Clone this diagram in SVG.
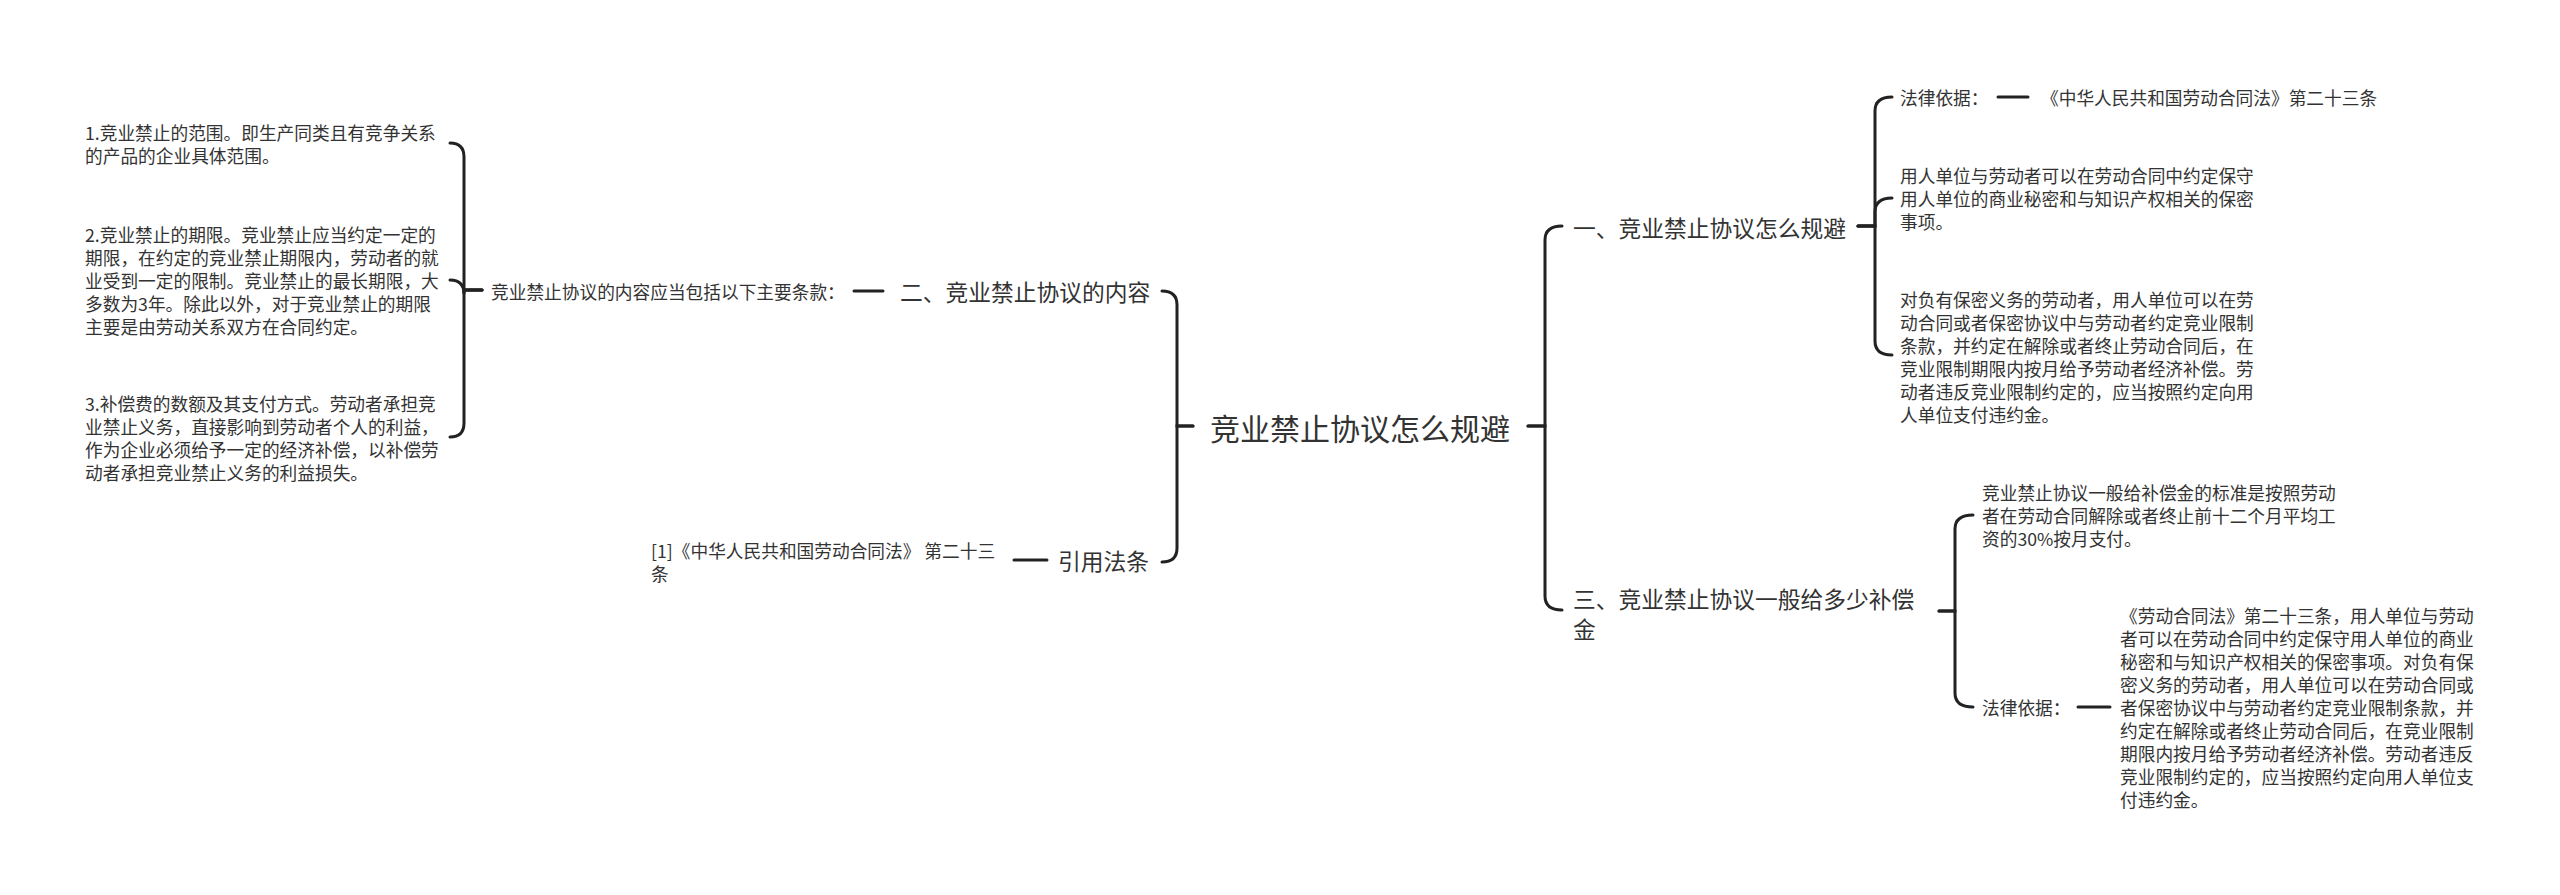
<svg xmlns="http://www.w3.org/2000/svg" width="2560" height="895" viewBox="0 0 2560 895">
<style>
text{font-family:"Noto Sans CJK SC","Noto Sans",sans-serif;fill:#333;dominant-baseline:central}
.c{font-size:30px}
.l1{font-size:22.75px}
.l2{font-size:17.7px}
.ln{fill:none;stroke:#222;stroke-width:3;stroke-linecap:round}
</style>
<rect width="2560" height="895" fill="#fff"/>
<g id="connectors" class="ln">
<!-- center to left -->
<path d="M1193,426 H1177 V305 Q1177,291 1162,291"/>
<path d="M1193,426 H1177 V548 Q1177,562 1162,562"/>
<!-- center to right -->
<path d="M1528,426 H1545 V240 Q1545,226 1562,226"/>
<path d="M1528,426 H1545 V596 Q1545,610 1562,610"/>
<!-- 二 to sub -->
<path d="M883,291 H854"/>
<!-- sub to items -->
<path d="M482,290 H464 V157 Q464,143 450,143"/>
<path d="M482,290 H464 V294 Q464,280 450,280"/>
<path d="M482,290 H464 V423 Q464,437 450,437"/>
<!-- 引用法条 -->
<path d="M1047,560 H1014"/>
<!-- 一 to children -->
<path d="M1858,226 H1875 V111 Q1875,97 1892,97"/>
<path d="M1858,226 H1875 V212 Q1875,198 1892,198"/>
<path d="M1858,226 H1875 V341 Q1875,355 1892,355"/>
<path d="M1998,97 H2028"/>
<!-- 三 to children -->
<path d="M1939,611 H1955 V529 Q1955,515 1973,515"/>
<path d="M1939,611 H1955 V693 Q1955,707 1973,707"/>
<path d="M2078,707 H2110"/>
</g>
<g id="center"><text class="c" x="1210" y="427">竞业禁止协议怎么规避</text></g>
<g id="n-two"><text class="l1" x="900" y="291">二、竞业禁止协议的内容</text></g>
<g id="n-two-sub"><text class="l2" x="491" y="291">竞业禁止协议的内容应当包括以下主要条款：</text></g>
<g id="n-item1" class="l2">
<text x="85" y="132">1.竞业禁止的范围。即生产同类且有竞争关系</text>
<text x="85" y="155">的产品的企业具体范围。</text>
</g>
<g id="n-item2" class="l2">
<text x="85" y="234">2.竞业禁止的期限。竞业禁止应当约定一定的</text>
<text x="85" y="257">期限，在约定的竞业禁止期限内，劳动者的就</text>
<text x="85" y="280">业受到一定的限制。竞业禁止的最长期限，大</text>
<text x="85" y="303">多数为3年。除此以外，对于竞业禁止的期限</text>
<text x="85" y="326">主要是由劳动关系双方在合同约定。</text>
</g>
<g id="n-item3" class="l2">
<text x="85" y="403">3.补偿费的数额及其支付方式。劳动者承担竞</text>
<text x="85" y="426">业禁止义务，直接影响到劳动者个人的利益，</text>
<text x="85" y="449">作为企业必须给予一定的经济补偿，以补偿劳</text>
<text x="85" y="472">动者承担竞业禁止义务的利益损失。</text>
</g>
<g id="n-ref"><text class="l1" x="1058" y="560">引用法条</text></g>
<g id="n-ref-sub" class="l2">
<text x="651" y="550">[1]《中华人民共和国劳动合同法》 第二十三</text>
<text x="651" y="573">条</text>
</g>
<g id="n-one"><text class="l1" x="1573" y="227">一、竞业禁止协议怎么规避</text></g>
<g id="n-one-basis"><text class="l2" x="1900" y="97">法律依据：</text></g>
<g id="n-one-law"><text class="l2" x="2041" y="97">《中华人民共和国劳动合同法》第二十三条</text></g>
<g id="n-one-a" class="l2">
<text x="1900" y="175">用人单位与劳动者可以在劳动合同中约定保守</text>
<text x="1900" y="198">用人单位的商业秘密和与知识产权相关的保密</text>
<text x="1900" y="221">事项。</text>
</g>
<g id="n-one-b" class="l2">
<text x="1900" y="299">对负有保密义务的劳动者，用人单位可以在劳</text>
<text x="1900" y="322">动合同或者保密协议中与劳动者约定竞业限制</text>
<text x="1900" y="345">条款，并约定在解除或者终止劳动合同后，在</text>
<text x="1900" y="368">竞业限制期限内按月给予劳动者经济补偿。劳</text>
<text x="1900" y="391">动者违反竞业限制约定的，应当按照约定向用</text>
<text x="1900" y="414">人单位支付违约金。</text>
</g>
<g id="n-three" class="l1">
<text x="1573" y="598">三、竞业禁止协议一般给多少补偿</text>
<text x="1573" y="628">金</text>
</g>
<g id="n-three-a" class="l2">
<text x="1982" y="492">竞业禁止协议一般给补偿金的标准是按照劳动</text>
<text x="1982" y="515">者在劳动合同解除或者终止前十二个月平均工</text>
<text x="1982" y="538">资的30%按月支付。</text>
</g>
<g id="n-three-basis"><text class="l2" x="1982" y="707">法律依据：</text></g>
<g id="n-three-law" class="l2">
<text x="2120" y="615">《劳动合同法》第二十三条，用人单位与劳动</text>
<text x="2120" y="638">者可以在劳动合同中约定保守用人单位的商业</text>
<text x="2120" y="661">秘密和与知识产权相关的保密事项。对负有保</text>
<text x="2120" y="684">密义务的劳动者，用人单位可以在劳动合同或</text>
<text x="2120" y="707">者保密协议中与劳动者约定竞业限制条款，并</text>
<text x="2120" y="730">约定在解除或者终止劳动合同后，在竞业限制</text>
<text x="2120" y="753">期限内按月给予劳动者经济补偿。劳动者违反</text>
<text x="2120" y="776">竞业限制约定的，应当按照约定向用人单位支</text>
<text x="2120" y="799">付违约金。</text>
</g>
</svg>
